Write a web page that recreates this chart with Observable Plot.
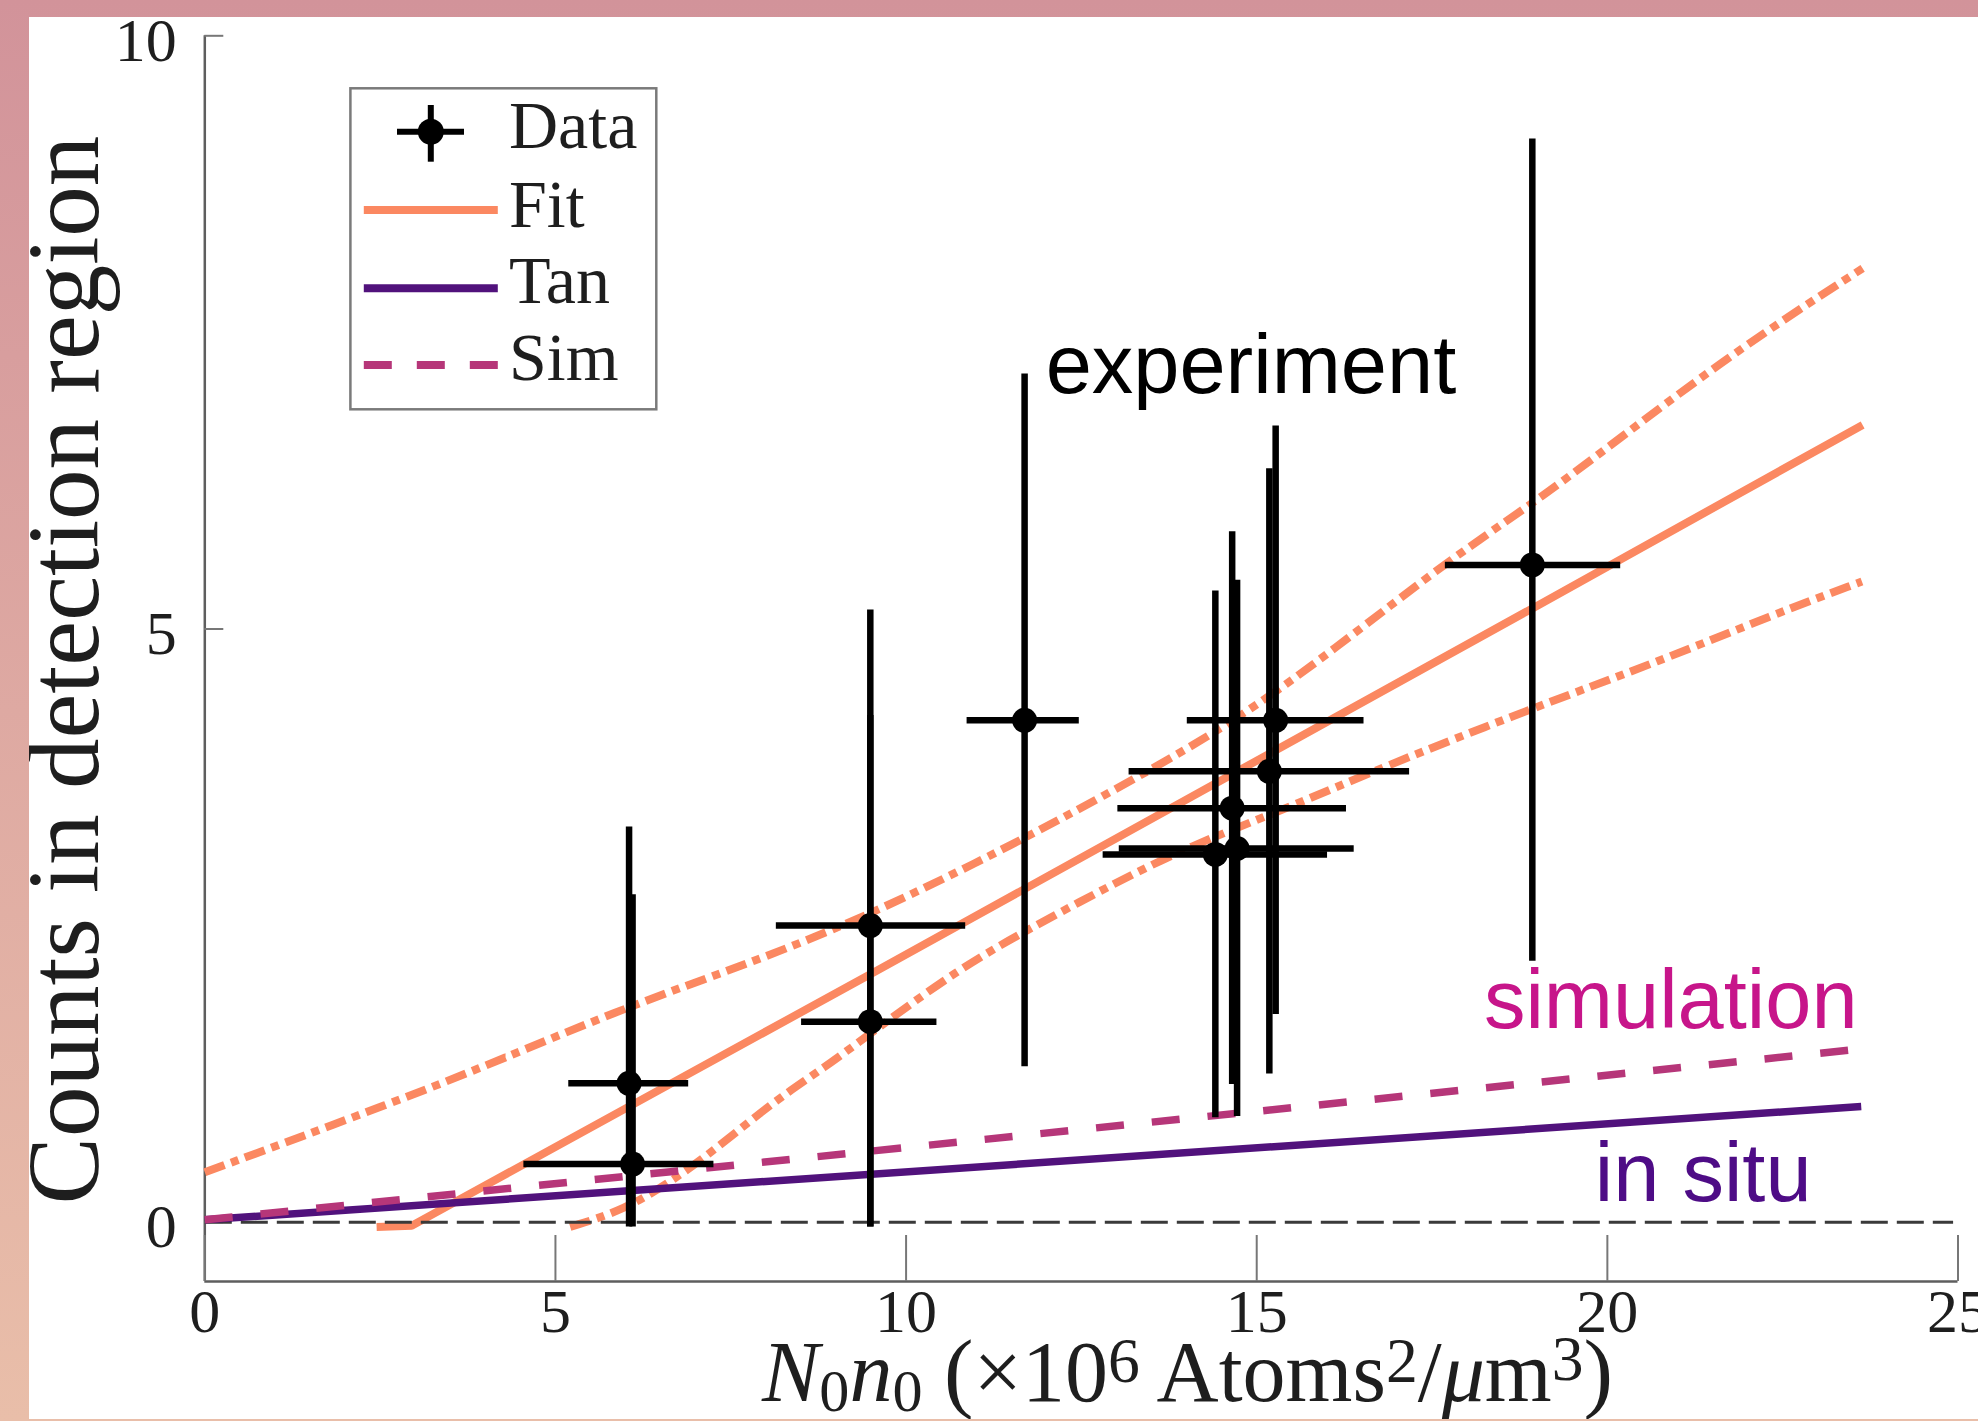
<!DOCTYPE html>
<html><head><meta charset="utf-8">
<script src="https://cdn.jsdelivr.net/npm/d3@7"></script>
<script src="https://cdn.jsdelivr.net/npm/@observablehq/plot@0.6"></script>
<style>
html,body{margin:0;padding:0;}
body{width:1978px;height:1421px;overflow:hidden;position:relative;background:linear-gradient(to bottom,#d2939a 0%,#dea9a2 50%,#e9bea9 100%);}
#chart{position:absolute;left:29px;top:17px;width:1949px;height:1402px;background:#fff;overflow:hidden;}
</style></head><body><div id="chart"></div>
<script>
// ---- data ----
const xTicks = [0, 5, 10, 15, 20, 25];
const yTicks = [0, 5, 10];

const pointX     = [6.05, 6.10, 9.49, 9.49, 11.69, 14.41, 14.72, 14.65, 15.18, 15.27, 18.93];
const pointY     = [1.17, 0.49, 2.50, 1.69, 4.23, 3.10, 3.15, 3.49, 3.80, 4.23, 5.54];
const pointXLow  = [5.19, 4.55, 8.15, 8.51, 10.87, 12.81, 13.04, 13.02, 13.18, 14.01, 17.69];
const pointXHigh = [6.90, 7.26, 10.85, 10.44, 12.47, 16.01, 16.39, 16.28, 17.18, 16.53, 20.19];
const pointYLow  = [-0.04, -0.04, -0.04, -0.04, 1.31, 0.88, 0.89, 1.16, 1.25, 1.75, 2.20];
const pointYHigh = [3.33, 2.76, 5.16, 4.27, 7.15, 5.32, 5.41, 5.82, 6.35, 6.71, 9.13];

const fitX = [2.45, 2.95, 3.60, 9.49, 18.95, 23.64];
const fitY = [-0.04, -0.03, 0.18, 2.09, 5.18, 6.72];

const upperX = [0, 2.79, 4.22, 6.04, 7.85, 9.49, 11.49, 13.31, 15.15, 17.56, 18.92, 19.94, 21.79, 23.64];
const upperY = [0.42, 1.03, 1.37, 1.82, 2.20, 2.59, 3.17, 3.75, 4.38, 5.51, 6.05, 6.50, 7.33, 8.04];

const lowerX = [5.21, 5.97, 6.67, 7.25, 8.14, 8.83, 9.49, 10.76, 11.78, 12.95, 14.04, 15.40, 16.77, 18.92, 20.75, 22.36, 23.63];
const lowerY = [-0.04, 0.10, 0.35, 0.60, 1.03, 1.30, 1.59, 2.14, 2.48, 2.85, 3.17, 3.48, 3.83, 4.33, 4.73, 5.12, 5.40];

const tanX = [0, 23.62];
const tanY = [0.02, 0.975];
const simX = [0, 23.62];
const simY = [0.02, 1.46];
const zeroX = [0, 24.93];
const zeroY = [0, 0];

const legendLabels = ["Data", "Fit", "Tan", "Sim"];

// ---- tables ----
const zip = (xs, ys) => xs.map((x, i) => ({x, y: ys[i]}));
const points = pointX.map((x, i) => ({x, y: pointY[i], x1: pointXLow[i], x2: pointXHigh[i], y1: pointYLow[i], y2: pointYHigh[i]}));

const orange = "#FB8861", magenta = "#B63679", purple = "#51127C";
const serif = "'Liberation Serif','Times New Roman',serif";
const sans = "'Liberation Sans',Arial,sans-serif";

const W = 1949, H = 1402, mL = 175.3, mR = 20.5, mT = 18.3, mB = 138;
const plotW = W - mL - mR, plotH = H - mT - mB;

const chart = Plot.plot({
  width: W, height: H,
  marginLeft: mL, marginRight: mR, marginTop: mT, marginBottom: mB,
  x: {domain: [0, 25]},
  y: {domain: [-0.5, 10]},
  style: {fontFamily: serif, background: "white", color: "#1e1e1e"},
  marks: [
    Plot.ruleX([0], {stroke: "#5e5e5e", strokeWidth: 2.5}),
    Plot.ruleY([-0.5], {stroke: "#5e5e5e", strokeWidth: 2.5}),
    Plot.ruleX(xTicks, {stroke: "#777", strokeWidth: 2, insetTop: plotH - 46}),
    Plot.ruleY(yTicks, {stroke: "#777", strokeWidth: 2, insetRight: plotW - 19}),
    Plot.axisX({ticks: xTicks, tickSize: 0, tickPadding: 6, fontSize: 62, label: null, fill: "#1e1e1e"}),
    Plot.axisY({ticks: yTicks, tickSize: 0, tickPadding: 28, dy: 5, fontSize: 62, label: null, fill: "#1e1e1e"}),
    Plot.line(zip(upperX, upperY), {x: "x", y: "y", stroke: orange, strokeWidth: 8, strokeDasharray: "21,7,8,7", strokeLinecap: "butt", curve: "basis"}),
    Plot.line(zip(lowerX, lowerY), {x: "x", y: "y", stroke: orange, strokeWidth: 8, strokeDasharray: "21,7,8,7", strokeLinecap: "butt", curve: "basis"}),
    Plot.line(zip(fitX, fitY), {x: "x", y: "y", stroke: orange, strokeWidth: 8, strokeLinecap: "butt"}),
    Plot.line(zip(zeroX, zeroY), {x: "x", y: "y", stroke: "#3a3a3a", strokeWidth: 3, strokeDasharray: "27,9", strokeLinecap: "butt"}),
    Plot.line(zip(tanX, tanY), {x: "x", y: "y", stroke: purple, strokeWidth: 7.5, strokeLinecap: "butt"}),
    Plot.line(zip(simX, simY), {x: "x", y: "y", stroke: magenta, strokeWidth: 7.5, strokeDasharray: "28,28", strokeLinecap: "butt"}),
    Plot.ruleX(points, {x: "x", y1: "y1", y2: "y2", stroke: "black", strokeWidth: 6.5}),
    Plot.ruleY(points, {y: "y", x1: "x1", x2: "x2", stroke: "black", strokeWidth: 6.5}),
    Plot.dot(points, {x: "x", y: "y", r: 12.5, fill: "black"}),
    Plot.text(["experiment"], {x: 11.99, y: 6.99, text: d => d, textAnchor: "start", lineAnchor: "bottom", fontFamily: sans, fontSize: 83, fill: "black"}),
    Plot.text(["simulation"], {x: 18.24, y: 1.636, text: d => d, textAnchor: "start", lineAnchor: "bottom", fontFamily: sans, fontSize: 83, fill: "#C7158A"}),
    Plot.text(["in situ"], {x: 19.82, y: 0.177, text: d => d, textAnchor: "start", lineAnchor: "bottom", fontFamily: sans, fontSize: 83, fill: "#4E0C86"})
  ]
});
document.getElementById("chart").appendChild(chart);

const svg = d3.select(chart);

// y label
svg.append("text")
  .attr("transform", "translate(69,653) rotate(-90)")
  .attr("text-anchor", "middle")
  .attr("font-family", serif).attr("font-size", 101).attr("fill", "#1e1e1e")
  .text("Counts in detection region");

// x label with sub/superscripts
const base = 86;
const parts = [
  {t: "N", it: true}, {t: "0", s: 0.7, sh: 10}, {t: "n", it: true}, {t: "0", s: 0.7, sh: 10},
  {t: " "}, {t: "(", s: 1.03}, {t: "×10"}, {t: "6", s: 0.74, sh: -19},
  {t: " Atoms"}, {t: "2", s: 0.74, sh: -19}, {t: "/"}, {t: "μ", it: true}, {t: "m"},
  {t: "3", s: 0.74, sh: -21}, {t: ")", s: 1.03}
];
const xl = svg.append("text")
  .attr("x", 1158.5).attr("y", 1384).attr("text-anchor", "middle")
  .attr("font-family", serif).attr("font-size", base).attr("fill", "#1e1e1e")
  .attr("xml:space", "preserve");
let prev = 0;
for (const p of parts) {
  const sh = p.sh || 0;
  xl.append("tspan")
    .attr("dy", sh - prev)
    .attr("font-size", base * (p.s || 1))
    .attr("font-style", p.it ? "italic" : "normal")
    .text(p.t);
  prev = sh;
}

// legend
const lg = svg.append("g").attr("text-anchor", "start");
lg.append("rect").attr("x", 321.4).attr("y", 71.3).attr("width", 305.9).attr("height", 321)
  .attr("fill", "white").attr("stroke", "#7a7a7a").attr("stroke-width", 2.5);
lg.append("line").attr("x1", 368).attr("x2", 435).attr("y1", 114.7).attr("y2", 114.7).attr("stroke", "black").attr("stroke-width", 6);
lg.append("line").attr("x1", 401.8).attr("x2", 401.8).attr("y1", 88).attr("y2", 144.7).attr("stroke", "black").attr("stroke-width", 6);
lg.append("circle").attr("cx", 401.8).attr("cy", 114.7).attr("r", 13).attr("fill", "black");
lg.append("line").attr("x1", 334.8).attr("x2", 468.8).attr("y1", 193).attr("y2", 193).attr("stroke", orange).attr("stroke-width", 8);
lg.append("line").attr("x1", 334.8).attr("x2", 468.8).attr("y1", 271.3).attr("y2", 271.3).attr("stroke", purple).attr("stroke-width", 8);
lg.append("line").attr("x1", 334.8).attr("x2", 468.8).attr("y1", 348).attr("y2", 348).attr("stroke", magenta).attr("stroke-width", 8).attr("stroke-dasharray", "28,25");
const baselines = [131.3, 209.7, 286.3, 363];
legendLabels.forEach((t, i) => {
  lg.append("text").attr("x", 480).attr("y", baselines[i]).attr("text-anchor", "start")
    .attr("font-family", serif).attr("font-size", 68).attr("fill", "#1e1e1e").text(t);
});
</script>
</body></html>
